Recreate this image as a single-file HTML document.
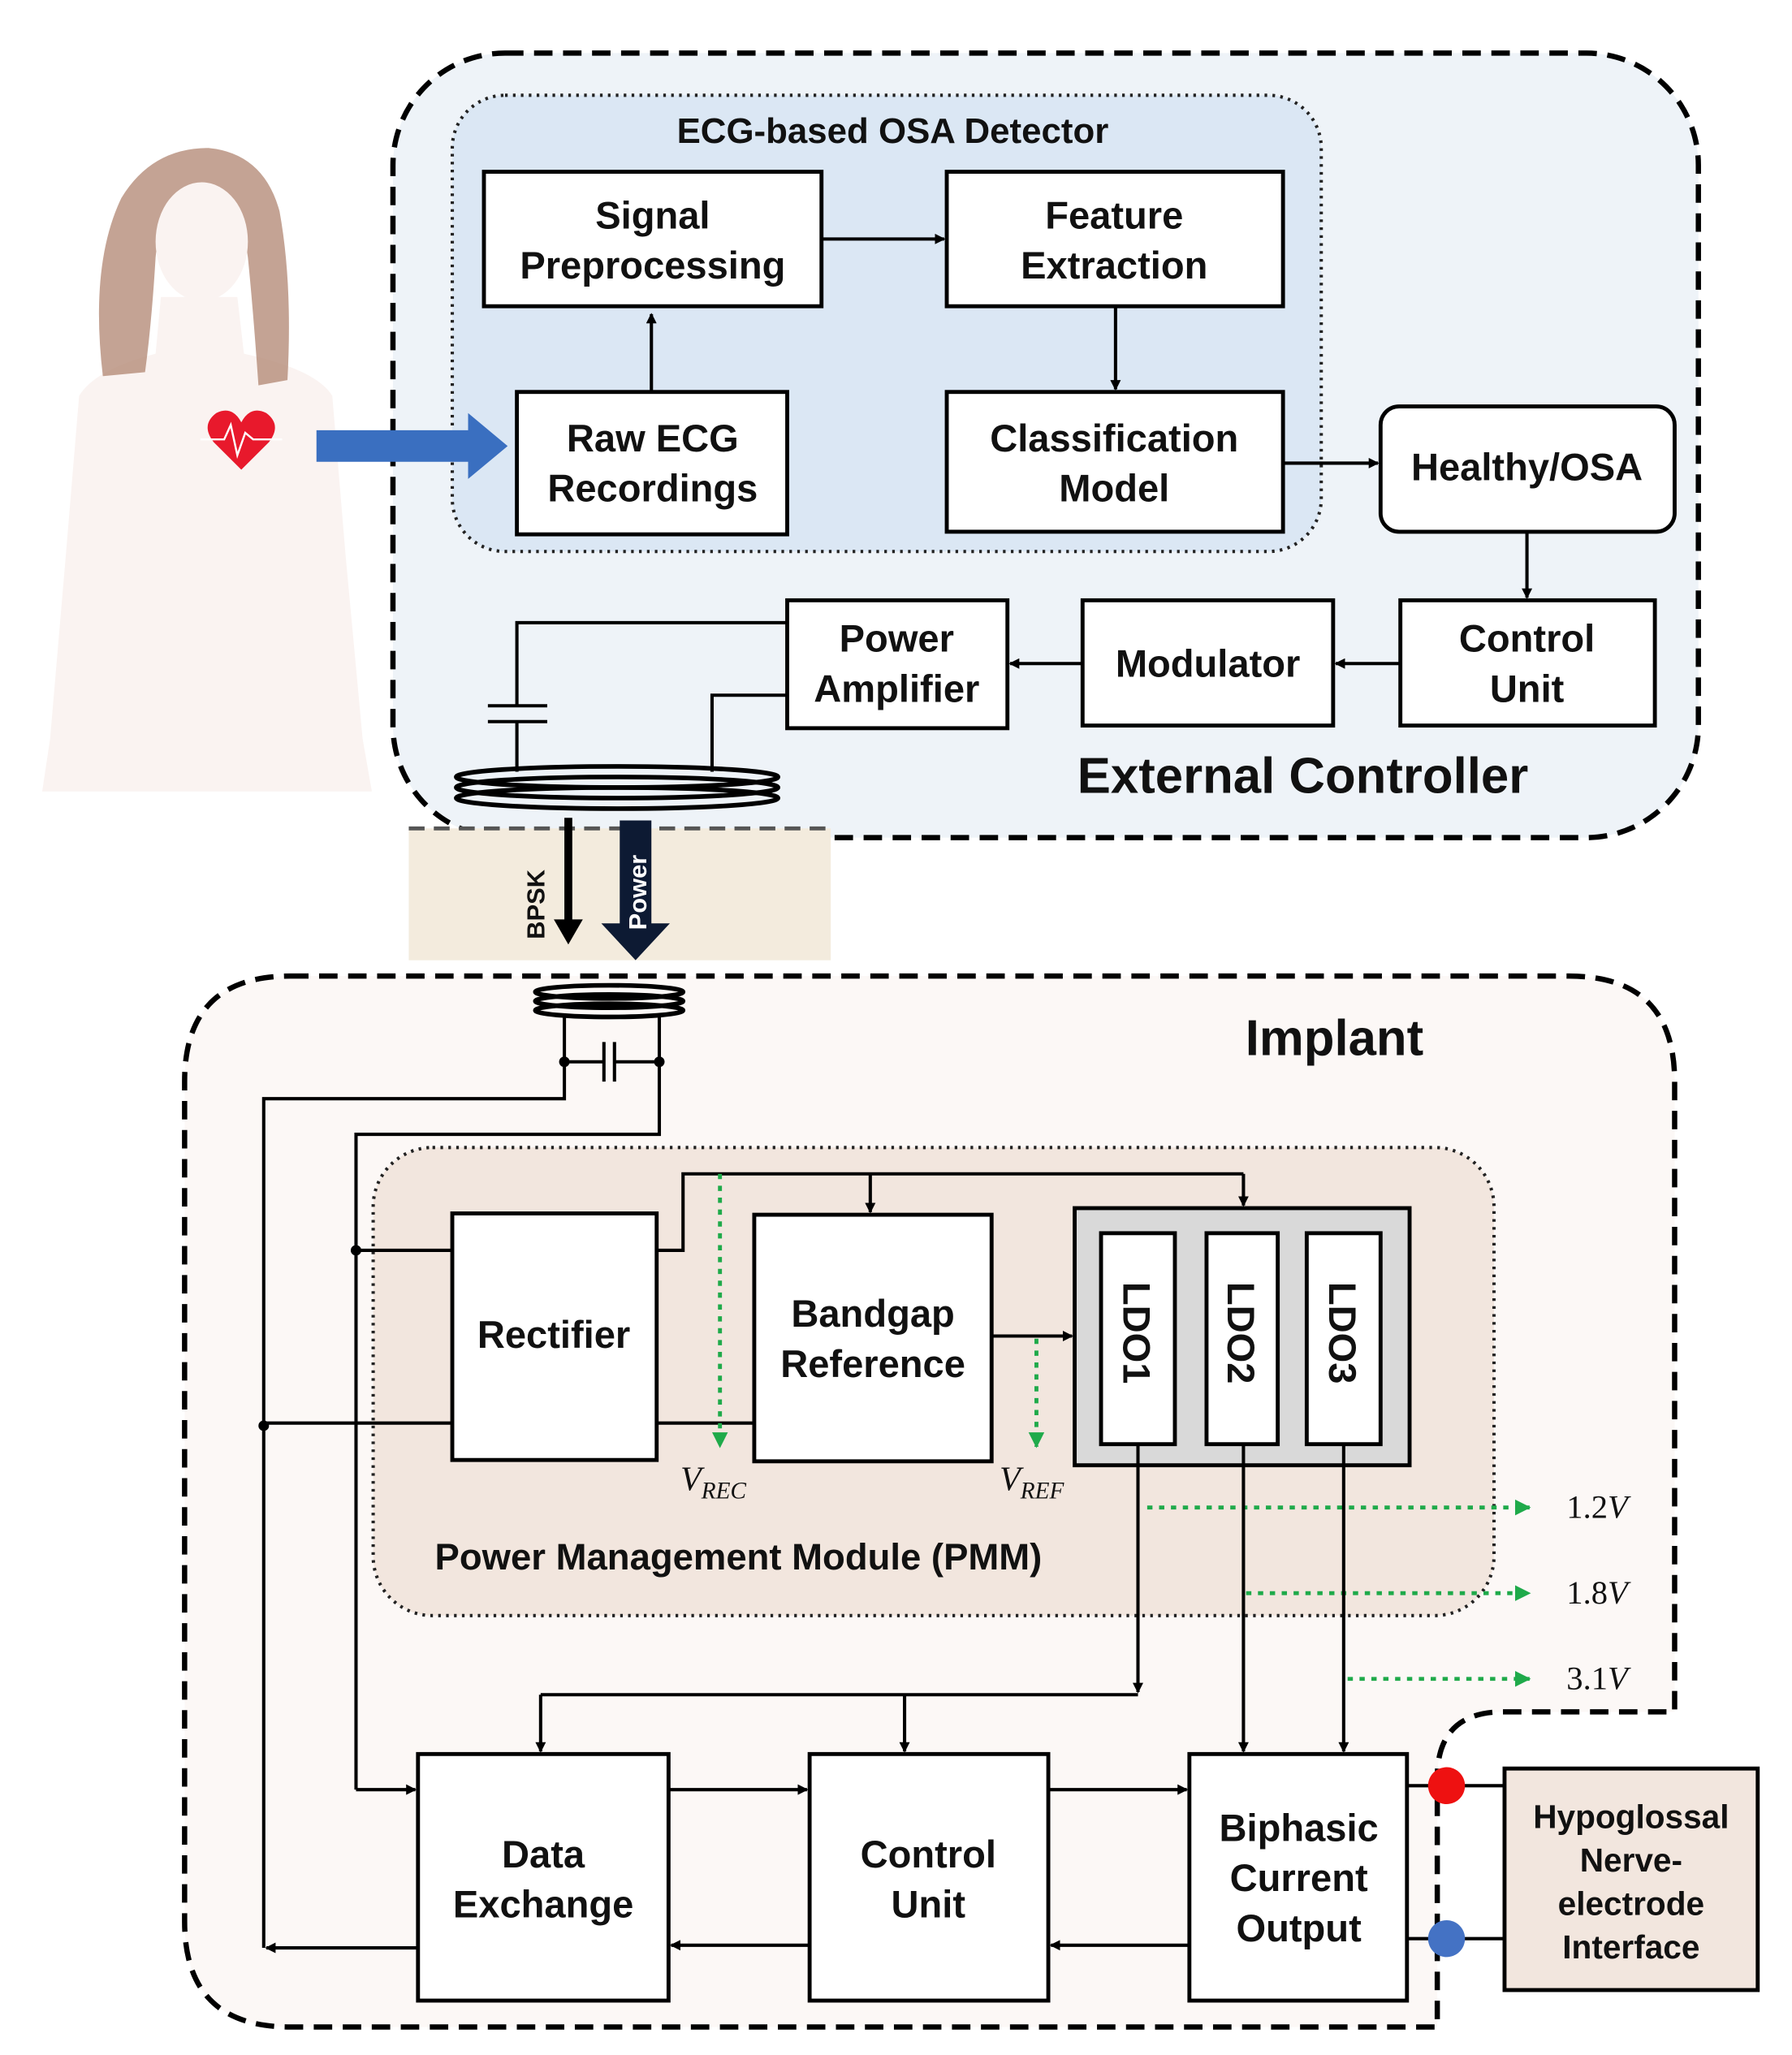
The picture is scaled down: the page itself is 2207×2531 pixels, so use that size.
<!DOCTYPE html>
<html><head><meta charset="utf-8"><style>
html,body{margin:0;padding:0;background:#fff}
svg{display:block}
text{font-family:"Liberation Sans",Arial,sans-serif;font-weight:bold;fill:#111}
.b{fill:#fff;stroke:#000;stroke-width:3}
.l{stroke:#000;stroke-width:2.5;fill:none}
.g{stroke:#1faa4a;stroke-width:3;stroke-dasharray:4 5;fill:none}
.m{font-family:"Liberation Serif",serif;font-style:italic;font-weight:normal}
</style></head><body>
<svg width="2207" height="2531" viewBox="0 0 1359 1558" xmlns="http://www.w3.org/2000/svg">
<defs>
<marker id="a" markerWidth="8" markerHeight="8" refX="7" refY="4" orient="auto" markerUnits="userSpaceOnUse"><path d="M0,0 L8,4 L0,8 z" fill="#000"/></marker>
<marker id="ga" markerWidth="12" markerHeight="12" refX="11" refY="6" orient="auto" markerUnits="userSpaceOnUse"><path d="M0,0 L12,6 L0,12 z" fill="#1faa4a"/></marker>
</defs>
<!-- woman -->
<path d="M122,225 L180,225 L185,268 Q240,280 252,300 L262,420 L275,560 L282,600 L32,600 L38,560 L50,420 L60,300 Q72,280 118,268 Z" fill="#faf3f1"/>
<path d="M78,285 Q68,200 92,150 Q115,112 158,112 Q200,116 212,160 Q222,215 218,288 L196,292 Q192,235 188,195 Q182,150 152,150 Q122,152 118,195 Q115,245 110,282 Z" fill="#b58c79" opacity="0.8"/>
<ellipse cx="153" cy="183" rx="35" ry="45" fill="#faf3f1"/>
<path d="M183,356 L162,335 Q152,322 164,313 Q176,307 183,320 Q190,307 202,313 Q214,322 204,335 Z" fill="#e8192c"/>
<path d="M152,333 L170,333 L175,322 L180,345 L186,328 L192,333 L214,333" stroke="#fff" stroke-width="1.5" fill="none"/>
<!-- external controller -->
<rect x="298" y="40" width="990" height="595" rx="85" fill="#eef3f8" stroke="#000" stroke-width="4" stroke-dasharray="14 8"/>
<rect x="343" y="72" width="659" height="346" rx="40" fill="#dbe7f4" stroke="#222" stroke-width="2.5" stroke-dasharray="2 4"/>
<!-- blue arrow -->
<path d="M240,326 L355,326 L355,313 L385,338 L355,363 L355,350 L240,350 Z" fill="#3a6fc0"/>
<text x="677" y="108" font-size="27" text-anchor="middle">ECG-based OSA Detector</text>
<rect class="b" x="367" y="130" width="256" height="102"/>
<text x="495" y="173" font-size="29" text-anchor="middle">Signal</text>
<text x="495" y="211" font-size="29" text-anchor="middle">Preprocessing</text>
<rect class="b" x="718" y="130" width="255" height="102"/>
<text x="845" y="173" font-size="29" text-anchor="middle">Feature</text>
<text x="845" y="211" font-size="29" text-anchor="middle">Extraction</text>
<rect class="b" x="392" y="297" width="205" height="108"/>
<text x="495" y="342" font-size="29" text-anchor="middle">Raw ECG</text>
<text x="495" y="380" font-size="29" text-anchor="middle">Recordings</text>
<rect class="b" x="718" y="297" width="255" height="106"/>
<text x="845" y="342" font-size="29" text-anchor="middle">Classification</text>
<text x="845" y="380" font-size="29" text-anchor="middle">Model</text>
<rect class="b" x="1047" y="308" width="223" height="95" rx="14"/>
<text x="1158" y="364" font-size="29" text-anchor="middle">Healthy/OSA</text>
<rect class="b" x="1062" y="455" width="193" height="95"/>
<text x="1158" y="494" font-size="29" text-anchor="middle">Control</text>
<text x="1158" y="532" font-size="29" text-anchor="middle">Unit</text>
<rect class="b" x="821" y="455" width="190" height="95"/>
<text x="916" y="513" font-size="29" text-anchor="middle">Modulator</text>
<rect class="b" x="597" y="455" width="167" height="97"/>
<text x="680" y="494" font-size="29" text-anchor="middle">Power</text>
<text x="680" y="532" font-size="29" text-anchor="middle">Amplifier</text>
<text x="988" y="601" font-size="38" text-anchor="middle">External Controller</text>
<line class="l" x1="494" y1="297" x2="494" y2="238" marker-end="url(#a)"/>
<line class="l" x1="623" y1="181" x2="716" y2="181" marker-end="url(#a)"/>
<line class="l" x1="846" y1="232" x2="846" y2="295" marker-end="url(#a)"/>
<line class="l" x1="973" y1="351" x2="1045" y2="351" marker-end="url(#a)"/>
<line class="l" x1="1158" y1="403" x2="1158" y2="453" marker-end="url(#a)"/>
<line class="l" x1="1062" y1="503" x2="1013" y2="503" marker-end="url(#a)"/>
<line class="l" x1="821" y1="503" x2="766" y2="503" marker-end="url(#a)"/>
<path class="l" d="M597,472 L392,472 L392,535 M370,535 L415,535 M370,547 L415,547 M392,547 L392,585 M597,527 L540,527 L540,585"/>
<!-- coil -->
<g fill="none" stroke="#000" stroke-width="3.5">
<ellipse cx="468" cy="589" rx="122" ry="8"/><ellipse cx="468" cy="597" rx="122" ry="8"/><ellipse cx="468" cy="605" rx="122" ry="8"/>
</g>
<!-- skin -->
<rect x="310" y="628" width="320" height="100" fill="#f3ebdd"/>
<line x1="310" y1="628" x2="630" y2="628" stroke="#555" stroke-width="3" stroke-dasharray="12 7"/>
<path d="M428,620 L434,620 L434,697 L442,697 L431,716 L420,697 L428,697 Z" fill="#000"/>
<path d="M470,622 L494,622 L494,700 L508,700 L482,728 L456,700 L470,700 Z" fill="#0d1a33"/>
<text x="0" y="0" font-size="19" transform="translate(413,712) rotate(-90)">BPSK</text>
<text x="0" y="0" font-size="19" style="fill:#fff" transform="translate(490,705) rotate(-90)">Power</text>
<!-- implant -->
<path d="M220,740 L1190,740 Q1270,740 1270,820 L1270,1298 L1140,1298 Q1090,1298 1090,1348 L1090,1537 L220,1537 Q140,1537 140,1457 L140,820 Q140,740 220,740 Z" fill="#fcf8f6" stroke="#000" stroke-width="4" stroke-dasharray="14 8"/>
<text x="1012" y="800" font-size="38" text-anchor="middle">Implant</text>
<g fill="none" stroke="#000" stroke-width="3.5">
<ellipse cx="462" cy="752" rx="56" ry="5"/><ellipse cx="462" cy="759" rx="56" ry="5"/><ellipse cx="462" cy="766" rx="56" ry="5"/>
</g>
<path class="l" d="M428,770 L428,833 L200,833 L200,1477 M500,770 L500,860 L270,860 L270,1357 M428,805 L458,805 M458,790 L458,820 M466,790 L466,820 M466,805 L500,805"/>
<circle cx="428" cy="805" r="4"/><circle cx="500" cy="805" r="4"/>
<!-- PMM -->
<rect x="283" y="870" width="850" height="355" rx="45" fill="#f2e6de" stroke="#222" stroke-width="2.5" stroke-dasharray="2 4"/>
<text x="560" y="1190" font-size="28" text-anchor="middle">Power Management Module (PMM)</text>
<rect class="b" x="343" y="920" width="155" height="187"/>
<text x="420" y="1022" font-size="29" text-anchor="middle">Rectifier</text>
<rect class="b" x="572" y="921" width="180" height="187"/>
<text x="662" y="1006" font-size="29" text-anchor="middle">Bandgap</text>
<text x="662" y="1044" font-size="29" text-anchor="middle">Reference</text>
<rect x="815" y="916" width="254" height="195" fill="#d9d9d9" stroke="#000" stroke-width="3"/>
<rect class="b" x="835" y="935" width="56" height="160"/>
<rect class="b" x="915" y="935" width="54" height="160"/>
<rect class="b" x="991" y="935" width="56" height="160"/>
<text font-size="29" transform="translate(852,972) rotate(90)">LDO1</text>
<text font-size="29" transform="translate(931,972) rotate(90)">LDO2</text>
<text font-size="29" transform="translate(1008,972) rotate(90)">LDO3</text>
<circle cx="270" cy="948" r="4"/><circle cx="200" cy="1081" r="4"/>
<path class="l" d="M270,948 L343,948 M200,1079 L343,1079 M498,1079 L572,1079 M498,948 L518,948 L518,890 L943,890"/>
<line class="l" x1="660" y1="890" x2="660" y2="919" marker-end="url(#a)"/>
<line class="l" x1="943" y1="890" x2="943" y2="914" marker-end="url(#a)"/>
<line class="l" x1="752" y1="1013" x2="813" y2="1013" marker-end="url(#a)"/>
<line class="g" x1="546" y1="890" x2="546" y2="1097" marker-end="url(#ga)"/>
<line class="g" x1="786" y1="1015" x2="786" y2="1097" marker-end="url(#ga)"/>
<text class="m" x="516" y="1130" font-size="26">V<tspan font-size="18" dy="6">REC</tspan></text>
<text class="m" x="758" y="1130" font-size="26">V<tspan font-size="18" dy="6">REF</tspan></text>
<line class="g" x1="870" y1="1143" x2="1160" y2="1143" marker-end="url(#ga)"/>
<line class="g" x1="945" y1="1208" x2="1160" y2="1208" marker-end="url(#ga)"/>
<line class="g" x1="1022" y1="1273" x2="1160" y2="1273" marker-end="url(#ga)"/>
<text class="m" x="1188" y="1151" font-size="25" style="font-style:normal">1.2<tspan font-style="italic">V</tspan></text>
<text class="m" x="1188" y="1216" font-size="25" style="font-style:normal">1.8<tspan font-style="italic">V</tspan></text>
<text class="m" x="1188" y="1281" font-size="25" style="font-style:normal">3.1<tspan font-style="italic">V</tspan></text>
<line class="l" x1="863" y1="1095" x2="863" y2="1283" marker-end="url(#a)"/>
<path class="l" d="M863,1285 L410,1285"/>
<line class="l" x1="410" y1="1285" x2="410" y2="1328" marker-end="url(#a)"/>
<line class="l" x1="686" y1="1285" x2="686" y2="1328" marker-end="url(#a)"/>
<line class="l" x1="943" y1="1095" x2="943" y2="1328" marker-end="url(#a)"/>
<line class="l" x1="1019" y1="1095" x2="1019" y2="1328" marker-end="url(#a)"/>
<!-- bottom boxes -->
<rect class="b" x="317" y="1330" width="190" height="187"/>
<text x="412" y="1416" font-size="29" text-anchor="middle">Data</text>
<text x="412" y="1454" font-size="29" text-anchor="middle">Exchange</text>
<rect class="b" x="614" y="1330" width="181" height="187"/>
<text x="704" y="1416" font-size="29" text-anchor="middle">Control</text>
<text x="704" y="1454" font-size="29" text-anchor="middle">Unit</text>
<rect class="b" x="902" y="1330" width="165" height="187"/>
<text x="985" y="1396" font-size="29" text-anchor="middle">Biphasic</text>
<text x="985" y="1434" font-size="29" text-anchor="middle">Current</text>
<text x="985" y="1472" font-size="29" text-anchor="middle">Output</text>
<line class="l" x1="270" y1="1357" x2="315" y2="1357" marker-end="url(#a)"/>
<line class="l" x1="507" y1="1357" x2="612" y2="1357" marker-end="url(#a)"/>
<line class="l" x1="795" y1="1357" x2="900" y2="1357" marker-end="url(#a)"/>
<line class="l" x1="902" y1="1475" x2="797" y2="1475" marker-end="url(#a)"/>
<line class="l" x1="614" y1="1475" x2="509" y2="1475" marker-end="url(#a)"/>
<line class="l" x1="317" y1="1477" x2="202" y2="1477" marker-end="url(#a)"/>
<path class="l" d="M1067,1354 L1141,1354 M1067,1470 L1141,1470"/>
<circle cx="1097" cy="1354" r="14" fill="#ee1111"/>
<circle cx="1097" cy="1470" r="14" fill="#4472c4"/>
<rect x="1141" y="1341" width="192" height="168" fill="#f2e6de" stroke="#000" stroke-width="3"/>
<g font-size="25" text-anchor="middle">
<text x="1237" y="1386">Hypoglossal</text>
<text x="1237" y="1419">Nerve-</text>
<text x="1237" y="1452">electrode</text>
<text x="1237" y="1485">Interface</text>
</g>
</svg>
</body></html>
